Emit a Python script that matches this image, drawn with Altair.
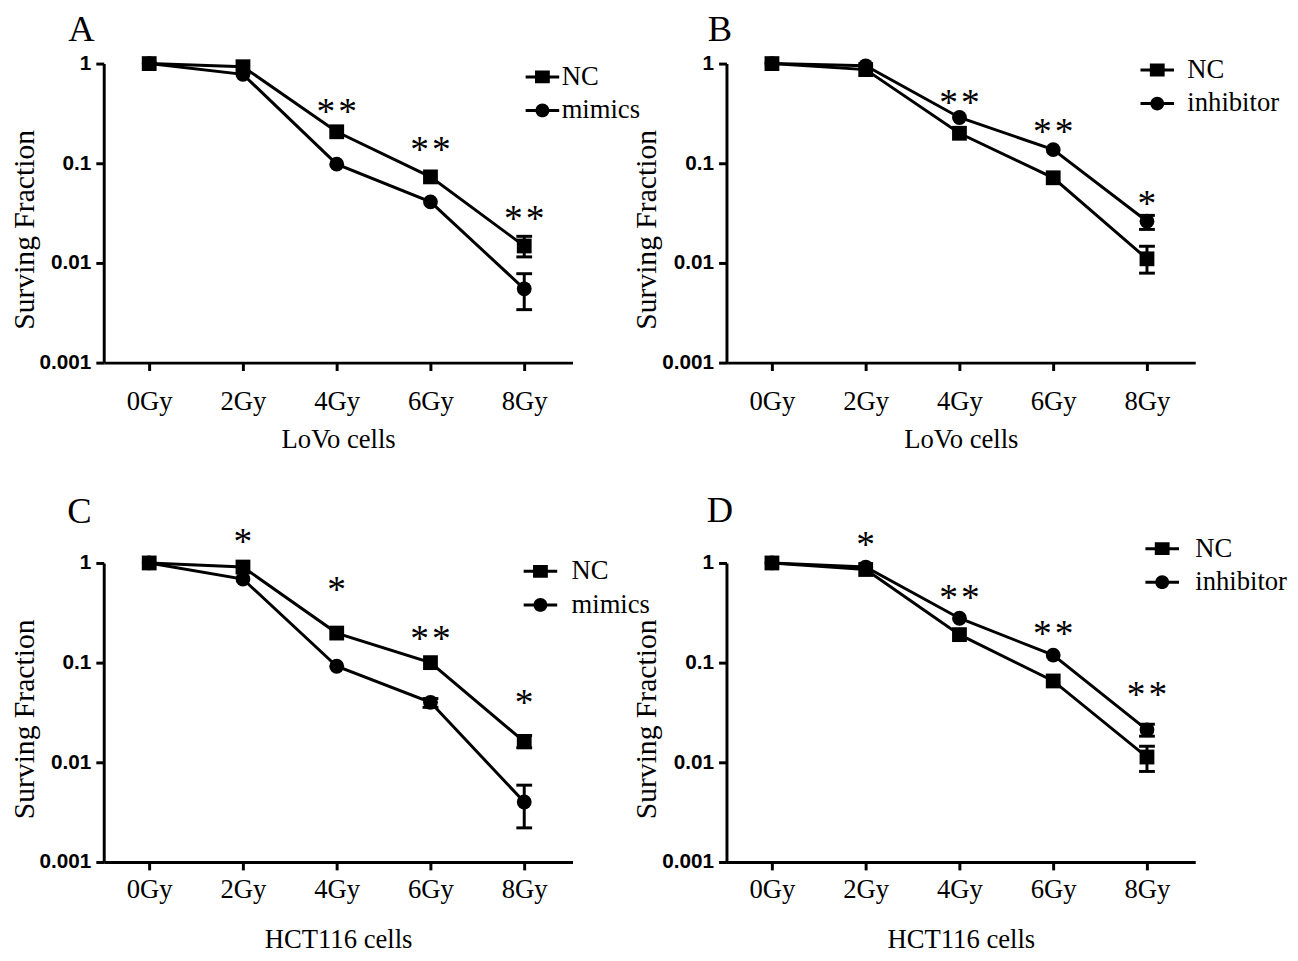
import altair as alt
import pandas as pd

SERIF = "Liberation Serif"
SANS = "Liberation Sans"

doses = [0, 2, 4, 6, 8]
y_ticks = [0.001, 0.01, 0.1, 1]

# ---- Panel A : LoVo, NC vs mimics ----
A_nc = [1.0, 0.93, 0.207, 0.073, 0.0148]
A_nc_lo = [None, None, None, None, 0.0115]
A_nc_hi = [None, None, None, None, 0.0185]
A_tr = [1.0, 0.78, 0.098, 0.041, 0.0055]
A_tr_lo = [None, None, None, None, 0.0034]
A_tr_hi = [None, None, None, None, 0.0078]
A_sig = ["", "", "**", "**", "**"]
A_sig_at = [None, None, 0.367, 0.151, 0.0306]

# ---- Panel B : LoVo, NC vs inhibitor ----
B_nc = [1.0, 0.87, 0.20, 0.0715, 0.011]
B_nc_lo = [None, None, None, None, 0.0079]
B_nc_hi = [None, None, None, None, 0.0147]
B_tr = [1.0, 0.95, 0.288, 0.137, 0.0262]
B_tr_lo = [None, None, None, None, 0.0217]
B_tr_hi = [None, None, None, None, 0.030]
B_sig = ["", "", "**", "**", "*"]
B_sig_at = [None, None, 0.453, 0.232, 0.044]

# ---- Panel C : HCT116, NC vs mimics ----
C_nc = [1.0, 0.91, 0.198, 0.10, 0.0161]
C_nc_lo = [None, None, None, None, 0.014]
C_nc_hi = [None, None, None, None, 0.0186]
C_tr = [1.0, 0.69, 0.092, 0.040, 0.0040]
C_tr_lo = [None, None, None, 0.0356, 0.0022]
C_tr_hi = [None, None, None, 0.0436, 0.0059]
C_sig = ["", "*", "*", "**", "*"]
C_sig_at = [None, 1.80, 0.593, 0.191, 0.0437]

# ---- Panel D : HCT116, NC vs inhibitor ----
D_nc = [1.0, 0.86, 0.191, 0.0655, 0.0113]
D_nc_lo = [None, None, None, None, 0.0081]
D_nc_hi = [None, None, None, None, 0.0145]
D_tr = [1.0, 0.91, 0.279, 0.119, 0.0212]
D_tr_lo = [None, None, None, None, 0.0183]
D_tr_hi = [None, None, None, None, 0.0241]
D_sig = ["", "*", "**", "**", "**"]
D_sig_at = [None, 1.71, 0.492, 0.214, 0.053]

SQ_PATH = ("M-1.7,-0.15H-0.75V-0.65H0.75V-0.15H1.7V0.15H0.75V0.65"
           "H-0.75V0.15H-1.7Z")
CI_PATH = ("M-1.7,-0.15H-0.68V0.15H-1.7Z M0.68,-0.15H1.7V0.15H0.68Z "
           "M0.7,0A0.7,0.7 0 1,1 -0.7,0A0.7,0.7 0 1,1 0.7,0Z")

W, H = 475, 303


def series_df(names, nc, nc_lo, nc_hi, tr, tr_lo, tr_hi):
    rows = []
    for name, vals, los, his in [(names[0], nc, nc_lo, nc_hi),
                                  (names[1], tr, tr_lo, tr_hi)]:
        for d, v, lo, hi in zip(doses, vals, los, his):
            rows.append({"group": name, "dose": d, "value": v,
                         "lo": lo, "hi": hi})
    return pd.DataFrame(rows)


def panel(letter, tdx, toff, names, data, sig, sig_at, xtitle,
          lx, ly, loff, lrow, xlpad, xtpad, ytitle_y):
    df = series_df(names, *data)
    sdf = pd.DataFrame({"dose": doses, "sig": sig, "sy": sig_at})
    sdf = sdf[sdf["sig"] != ""].copy()
    sdf["sig"] = sdf["sig"].str.replace("**", "*\u200a*", regex=False)

    xscale = alt.Scale(domain=[-0.97, 9.03], nice=False, zero=False)
    xaxis = alt.Axis(values=doses, labelExpr="datum.value + 'Gy'",
                     title=xtitle, grid=False, labelFont=SERIF,
                     labelFontSize=27, labelPadding=xlpad, titleFont=SERIF,
                     titleFontSize=27, titleFontWeight="normal",
                     titlePadding=xtpad, tickSize=8)
    yscale = alt.Scale(type="log", domain=[0.001, 1], nice=False)
    yaxis = alt.Axis(values=y_ticks, format="~g", title="Surving Fraction",
                     grid=False, labelFont=SANS, labelFontWeight="bold",
                     labelFontSize=21, labelPadding=5, titleFont=SERIF,
                     titleFontSize=30, titleFontWeight="normal",
                     titlePadding=0, titleY=ytitle_y, tickSize=8)

    def X():
        return alt.X("dose:Q", scale=xscale, axis=xaxis)

    def Y(field):
        return alt.Y(field, type="quantitative", scale=yscale, axis=yaxis)

    base = alt.Chart(df)
    lines = base.mark_line(color="black", strokeWidth=3).encode(
        x=X(), y=Y("value"), detail="group:N", order="dose:Q")
    err = base.transform_filter("isValid(datum.lo)").mark_rule(
        color="black", strokeWidth=3).encode(
        x=X(), y=Y("lo"), y2="hi:Q")
    caps = base.transform_filter("isValid(datum.lo)").transform_fold(
        ["lo", "hi"], as_=["end", "ev"]).mark_tick(
        color="black", orient="horizontal", size=16, thickness=3,
        opacity=1).encode(x=X(), y=Y("ev"))
    pts = base.mark_point(filled=True, color="black", opacity=1,
                          size=225).encode(
        x=X(), y=Y("value"),
        shape=alt.Shape("group:N", scale=alt.Scale(domain=names,
                        range=["square", "circle"]), legend=None))
    leg = base.transform_filter("false").mark_point(
        filled=True, color="black", opacity=1, size=400).encode(
        x=X(), y=Y("value"),
        shape=alt.Shape("group:N", scale=alt.Scale(domain=names,
                        range=[SQ_PATH, CI_PATH]),
                        legend=alt.Legend(
                            title=None, orient="none", legendX=lx,
                            legendY=ly, labelFont=SERIF, labelFontSize=27,
                            labelColor="black", labelOffset=loff,
                            rowPadding=lrow, padding=0, symbolSize=400,
                            symbolFillColor="black", symbolStrokeWidth=0,
                            symbolOpacity=1)))
    stars = alt.Chart(sdf).mark_text(
        font=SERIF, fontSize=38, color="black", baseline="middle",
        dy=6).encode(x=X(), y=Y("sy"), text="sig:N")

    return alt.layer(lines, err, caps, pts, stars, leg).resolve_scale(
        shape="independent").properties(
        width=W, height=H,
        title=alt.TitleParams(letter, anchor="start", frame="group",
                              font=SERIF, fontSize=37, fontWeight="normal",
                              color="black", dx=tdx, offset=toff,
                              baseline="alphabetic"))


pA = panel("A", -36, -25, ["NC", "mimics"],
           (A_nc, A_nc_lo, A_nc_hi, A_tr, A_tr_lo, A_tr_hi),
           A_sig, A_sig_at, "LoVo cells", 431, 0, 6, 6, 18, 13, 168)
pB = panel("B", -19, -25, ["NC", "inhibitor"],
           (B_nc, B_nc_lo, B_nc_hi, B_tr, B_tr_lo, B_tr_hi),
           B_sig, B_sig_at, "LoVo cells", 423, -7, 17, 6, 18, 13, 168)
pC = panel("C", -37, -35, ["NC", "mimics"],
           (C_nc, C_nc_lo, C_nc_hi, C_tr, C_tr_lo, C_tr_hi),
           C_sig, C_sig_at, "HCT116 cells", 429, -5, 18, 6, 7, 25, 158)
pD = panel("D", -20, -32, ["NC", "inhibitor"],
           (D_nc, D_nc_lo, D_nc_hi, D_tr, D_tr_lo, D_tr_hi),
           D_sig, D_sig_at, "HCT116 cells", 428, -28, 20, 6, 7, 25, 158)

chart = alt.concat(pA, pB, pC, pD, columns=2,
                   spacing={"row": 203, "column": 156},
                   bounds="flush").properties(
    padding={"left": 0, "top": -4, "right": 2, "bottom": 2}
).configure_view(stroke="transparent").configure_axis(
    domainColor="black", domainWidth=3, tickColor="black", tickWidth=3,
    labelColor="black", titleColor="black")

chart.save("out.html", embed_options={"renderer": "svg", "actions": False})
